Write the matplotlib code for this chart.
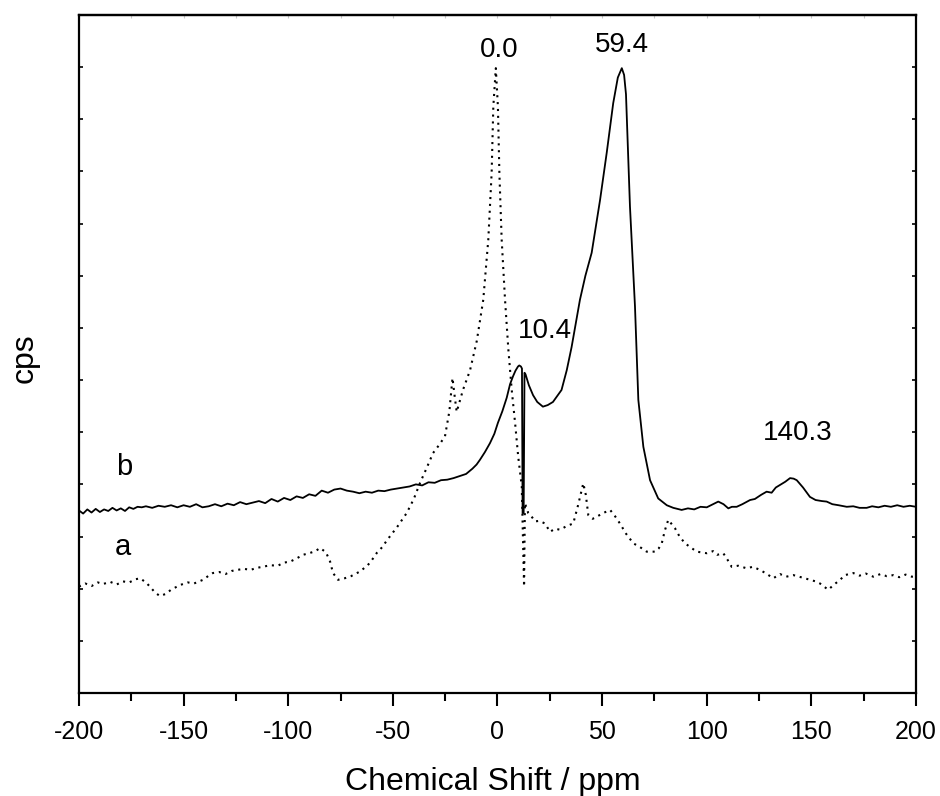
import matplotlib
matplotlib.use("Agg")
import matplotlib.pyplot as plt
from matplotlib.ticker import MultipleLocator, NullFormatter

plt.rcParams['font.family'] = ['Liberation Sans', 'DejaVu Sans']

# spectrum b (solid line)
b_ppm = [-200, -198, -196, -194, -192, -190, -188, -186, -184, -182, -180, -178, -176, -174,
         -172, -170, -168, -165, -162, -159, -156, -153, -150, -147, -144, -141, -138, -135,
         -132, -129, -126, -123, -120, -117, -114, -111, -108, -105, -102, -99, -96, -93, -90,
         -87, -84, -81, -78, -75, -72, -69, -66, -63, -60, -57, -54, -51, -48, -45, -42, -39,
         -36, -33, -30, -27, -24, -21, -18, -15, -12, -10, -8.4, -6, -3.6, -1.5, 0.2, 2.3,
         4.4, 6, 7.4, 8.6, 9.8, 10.4, 11.2, 11.7, 12.0, 12.5, 12.9, 13.4, 15, 17, 19, 21.7,
         24, 26.5, 30.6, 33.1, 35.4, 39.4, 42, 45, 49, 52.2, 55.3, 57.5, 59.4, 60.5, 61.4,
         63.3, 65.7, 67.3, 69.7, 72.9, 76.8, 80.9, 84, 88, 91, 94, 97, 100, 103, 105.5, 108,
         110.3, 112, 114.3, 117, 120.7, 123, 126, 128.6, 131, 133, 135, 137.5, 139.8, 141.5,
         143, 146, 149.3, 152, 155, 157.3, 160, 163, 166.9, 170, 173, 176.4, 179, 182, 185,
         188, 191, 194, 197, 200]
b_cps = [350, 344, 352, 346, 353, 347, 352, 349, 355, 350, 354, 349, 356, 353,
         357, 356, 358, 355, 359, 357, 360, 356, 360, 357, 362, 356, 358, 362,
         358, 363, 360, 366, 362, 365, 368, 364, 372, 367, 374, 370, 377, 374, 381,
         378, 388, 384, 390, 392, 388, 386, 383, 386, 384, 388, 387, 390, 392, 394, 396, 400,
         398, 404, 403, 408, 409, 412, 416, 420, 430, 438, 447, 462, 479, 497, 518, 540,
         566, 592, 607, 618, 626, 628, 626, 622, 345, 345, 614, 611, 590, 571, 558, 549,
         552, 558, 581, 619, 663, 754, 800, 844, 945, 1036, 1131, 1180, 1198, 1185, 1148,
         933, 741, 562, 472, 408, 373, 360, 355, 351, 354, 352, 357, 356, 362, 367, 362,
         354, 357, 357, 362, 370, 372, 380, 386, 384, 394, 399, 405, 412, 411,
         408, 394, 376, 370, 368, 367, 362, 360, 357, 358, 355, 355, 358, 356, 359,
         357, 360, 357, 359, 357]

# spectrum a (dotted line)
a_ppm = [-200, -197, -194, -191, -188.5, -185, -182, -179, -176, -173, -170.8, -168, -166.1,
         -163.5, -161.3, -158.5, -156, -151.7, -148, -145, -140.7, -138, -136, -133, -130,
         -127, -124.5, -121, -118, -115, -112, -108.7, -105, -102, -99, -96, -92.9, -90, -87,
         -84.8, -82, -80, -78.6, -76.2, -73, -70, -65.7, -62, -60, -57.6, -55, -52.8, -48,
         -43.4, -40, -37, -34, -30.8, -28, -25.1, -23, -21.5, -20.5, -19.5, -18, -16.5, -13.1,
         -9.9, -6.8, -4.4, -2.8, -2.0, -0.8, 0.2, 0.9, 2.0, 3.6, 5.2, 6.8, 8.4, 9.9, 11.6,
         12.7, 13.1, 14.7, 16, 17.9, 20, 22.7, 25.1, 27.5, 29.9, 33, 36.2, 38.5, 41.0, 42.2,
         43.4, 45.5, 47.4, 50.5, 53.8, 56, 58.5, 61.5, 64.9, 68, 71.3, 75.3, 77, 78.5, 80,
         81.6, 83, 84.8, 87, 89.6, 92, 95.2, 100, 103, 105, 107.9, 110, 111.9, 115, 119.1,
         122, 125.4, 128, 131.8, 135, 138, 141.4, 145, 149.3, 152, 154.1, 156, 158.1, 160,
         161.5, 163.7, 166, 170, 173, 176, 179.6, 183, 186, 189.2, 192, 195, 198, 200]
a_cps = [204, 210, 205, 212, 209, 213, 208, 214, 212, 218, 220, 212, 204,
         192, 186, 190, 198, 207, 212, 210, 217, 225, 230, 232, 228,
         234, 236, 238, 236, 240, 242, 245, 244, 250, 252, 258, 265, 268, 272,
         278, 270, 252, 230, 217, 220, 224, 233, 245, 255, 269, 280, 293, 318,
         345, 372, 403, 430, 460, 475, 492, 540, 604, 570, 539, 560, 581, 619,
         675, 754, 869, 997, 1124, 1198, 1124, 997, 869, 754, 658, 581, 518, 453, 396,
         204, 364, 345, 340, 329, 330, 325, 309, 315, 313, 320, 325, 360, 402, 380,
         341, 334, 338, 345, 351, 340, 325, 305, 287, 280, 271, 271, 277, 287, 312,
         332, 325, 316, 300, 287, 280, 271, 268, 272, 265, 268, 255, 242, 244, 239,
         242, 236, 230, 220, 228, 223, 226, 222, 217, 214, 210, 204, 198, 205,
         210, 217, 226, 230, 225, 229, 223, 228, 224, 226, 222, 227, 223, 224]

x_ticks = [-200, -150, -100, -50, 0, 50, 100, 150, 200]
x_ticklabels = ['-200', '-150', '-100', '-50', '0', '50', '100', '150', '200']

fig = plt.figure(figsize=(9.4, 7.96), dpi=100)
ax = fig.add_axes([0.084, 0.1294, 0.8905, 0.8518])

ax.plot(b_ppm, b_cps, color='black', lw=1.3)
ax.plot(a_ppm, a_cps, color='black', lw=1.5, linestyle=(0, (1.0, 2.3)))

ax.set_xlim(-200, 200)
ax.set_ylim(0, 1300)

for s in ax.spines.values():
    s.set_linewidth(1.6)

ax.set_xticks(x_ticks)
ax.set_xticklabels(x_ticklabels)
ax.xaxis.set_minor_locator(MultipleLocator(25))
ax.tick_params(axis='x', which='major', direction='out', length=9.4, width=1.5,
               labelsize=18, pad=10)
ax.tick_params(axis='x', which='minor', direction='out', length=5.8, width=1.5)

ax.yaxis.set_major_locator(MultipleLocator(100))
ax.yaxis.set_major_formatter(NullFormatter())
ax.tick_params(axis='y', which='major', direction='in', length=3, width=1.2,
               left=True, right=True)

top = ax.secondary_xaxis('top')
top.xaxis.set_major_locator(MultipleLocator(25))
top.tick_params(direction='in', length=2.5, width=0.8, color='#c8c8c8', labeltop=False)
top.spines['top'].set_linewidth(1.6)

# peak labels
ax.text(0.7, 1219, '0.0', fontsize=20, ha='center', va='baseline')
ax.text(59.5, 1229, '59.4', fontsize=20, ha='center', va='baseline')
ax.text(22.7, 681, '10.4', fontsize=20, ha='center', va='baseline')
ax.text(143.6, 485, '140.3', fontsize=20, ha='center', va='baseline')
ax.text(-178.5, 418, 'b', fontsize=21, ha='center', va='baseline')
ax.text(-179, 265, 'a', fontsize=21, ha='center', va='baseline')

fig.text(0.5245, 1 - 790 / 796, 'Chemical Shift / ppm', fontsize=23, ha='center',
         va='baseline')
fig.text(25 / 940, 1 - 358 / 796, 'cps', fontsize=23, rotation=90, ha='center',
         va='center')

fig.savefig('out.png', dpi=100)
